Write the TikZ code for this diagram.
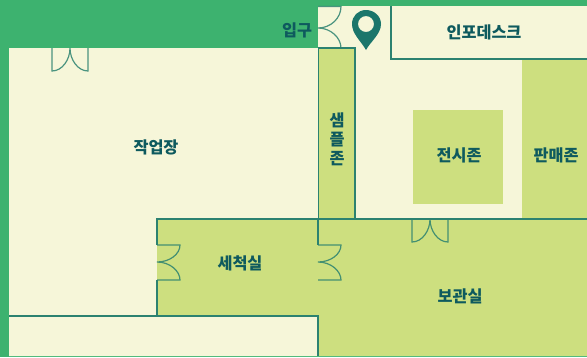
\documentclass[tikz,border=0pt]{standalone}
\usepackage{fontspec}
\newfontfamily\krfont{Noto Sans CJK KR}
\definecolor{wallgreen}{HTML}{3DB26F}
\definecolor{floorcream}{HTML}{F6F6D9}
\definecolor{roomgreen}{HTML}{CDDF7F}
\definecolor{linegreen}{HTML}{2C8270}
\definecolor{labelteal}{HTML}{0E5A5E}
\definecolor{pinteal}{HTML}{1B766B}

\begin{document}
\begin{tikzpicture}
[x=1pt,y=-1pt,
label/.style={text=labelteal,inner sep=0pt,align=center,font=\krfont\bfseries\fontsize{16.3}{19}\selectfont},
wall/.style={draw=linegreen,line width=1.1pt},
door/.style={draw=linegreen,line width=1.2pt,opacity=0.85}]

\useasboundingbox (0,0) rectangle (587,357);

%background
\fill[wallgreen] (0,0) rectangle (587,357);
\fill[floorcream] (9,48) -- (318,48) -- (318,6) -- (587,6) -- (587,356) -- (9,356) -- cycle;

%rooms
\fill[roomgreen] (413,110) rectangle (503,204);
\fill[roomgreen] (522,59) rectangle (587,219);
\fill[roomgreen] (157,219) rectangle (318,316);
\fill[roomgreen] (318,219) rectangle (587,356);
\fill[roomgreen] (318.5,48) rectangle (355,219);
\draw[wall] (391,6) -- (391,59) -- (587,59);
\draw[wall] (318.5,48) rectangle (355,219);
\draw[wall] (157,245) -- (157,219) -- (587,219);
\draw[wall] (157,280) -- (157,316);
\draw[wall] (9,316) -- (318,316) -- (318,356);
\draw[wall] (318,245) -- (318,219);

%doors
\draw[door] (318,6.5) -- (341,6.5) .. controls (341,18) and (331,28) .. (318,28)
	.. controls (331,28) and (341,38) .. (341,48);
\draw[door] (52,48) -- (52,71) .. controls (62,71) and (70,60) .. (70,48)
	.. controls (70,60) and (78,71) .. (88,71) -- (88,48);
\draw[door] (157,245) -- (180,245) .. controls (180,254) and (170,262) .. (157,262)
	.. controls (170,262) and (180,271) .. (180,280) -- (157,280);
\draw[door] (318,245) -- (341,245) .. controls (341,254) and (331,262) .. (318,262)
	.. controls (331,262) and (341,271) .. (341,280) -- (318,280);
\draw[door] (412,219) -- (412,242) .. controls (422,242) and (430,231) .. (430,219)
	.. controls (430,231) and (438,242) .. (448,242) -- (448,219);

%pin
\fill[pinteal,even odd rule] (366,50) .. controls (361,41) and (352,34) .. (352,24)
	.. controls (352,16) and (358,10) .. (366,10)
	.. controls (374,10) and (381,16) .. (381,24)
	.. controls (381,34) and (371,41) .. (366,50) -- cycle
	(366,24) circle (8);

%labels
\node[label] (Entrance) at (297,30) {입구};
\node[label] (FrontDesk) at (484,32) {인포데스크};
\node[label] (Workshop) at (156,147) {작업장};
\node[label] (SampleZone) at (337,139) {샘\\플\\존};
\node[label] (ExhibitZone) at (459,155) {전시존};
\node[label] (ShopZone) at (556,155) {판매존};
\node[label] (WashRoom) at (240,263) {세척실};
\node[label] (Storage) at (460,296) {보관실};
\end{tikzpicture}
\end{document}
